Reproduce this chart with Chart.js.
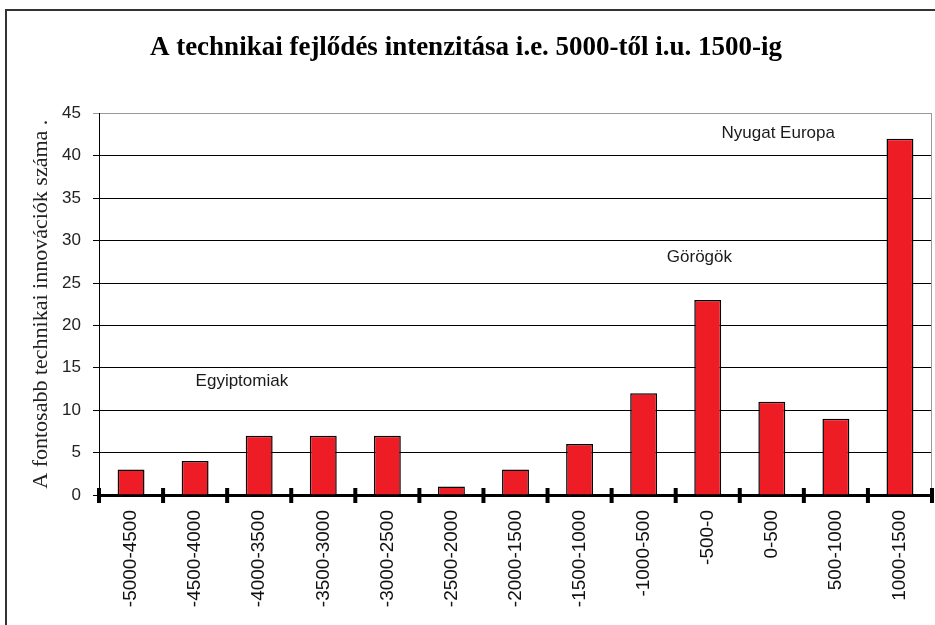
<!DOCTYPE html>
<html>
<head>
<meta charset="utf-8">
<script src="https://cdn.jsdelivr.net/npm/chart.js@4"></script>
<style>
  body { margin: 0; background: #fff; }
  #wrap { position: relative; width: 935px; height: 625px; overflow: hidden; }
  #frame { position: absolute; left: 5px; top: 9px; width: 1000px; height: 1000px;
           border-left: 2px solid #333; border-top: 2px solid #333; pointer-events: none; }
</style>
</head>
<body>
<div id="wrap">
  <canvas id="chart" width="935" height="625"></canvas>
  <div id="frame"></div>
</div>
<script>
// periods (years, negative = i.e.)
const periods = ['-5000-4500', '-4500-4000', '-4000-3500', '-3500-3000', '-3000-2500',
  '-2500-2000', '-2000-1500', '-1500-1000', '-1000-500', '-500-0', '0-500', '500-1000', '1000-1500'];
// number of major technical innovations
const innovations = [3, 4, 7, 7, 7, 1, 3, 6, 12, 23, 11, 9, 42];

// text notes placed in data units (category index, value)
const noteTexts = ['Egyiptomiak', 'Görögök', 'Nyugat Europa'];
const noteIndex = [1.73, 8.87, 10.1];
const noteValue = [13.4, 28, 42.6];

// draws the notes, the right plot border and the tick marks crossing the x axis
const extras = {
  id: 'extras',
  afterDatasetsDraw(chart) {
    const ctx = chart.ctx;
    const x = chart.scales.x, y = chart.scales.y;
    const area = chart.chartArea;
    ctx.save();
    ctx.strokeStyle = '#999';
    ctx.lineWidth = 1;
    ctx.beginPath();
    ctx.moveTo(area.right - 0.5, area.top);
    ctx.lineTo(area.right - 0.5, area.bottom);
    ctx.stroke();

    ctx.font = '17px "Liberation Sans", Arial, sans-serif';
    ctx.fillStyle = '#1a1a1a';
    ctx.textAlign = 'center';
    ctx.textBaseline = 'middle';
    noteTexts.forEach((t, i) => {
      const px = x.getPixelForValue(0) + noteIndex[i] * (x.getPixelForValue(1) - x.getPixelForValue(0));
      ctx.fillText(t, px, y.getPixelForValue(noteValue[i]));
    });
    // x axis crossing ticks
    const step = x.getPixelForValue(1) - x.getPixelForValue(0);
    const base = y.getPixelForValue(0);
    ctx.strokeStyle = '#000';
    ctx.lineWidth = 4;
    for (let i = 0; i <= periods.length; i++) {
      const px = x.getPixelForValue(0) - step / 2 + i * step;
      ctx.beginPath();
      ctx.moveTo(px, base - 7);
      ctx.lineTo(px, base + 8);
      ctx.stroke();
    }
    ctx.restore();
  }
};

const ctx = document.getElementById('chart').getContext('2d');
new Chart(ctx, {
  type: 'bar',
  data: {
    labels: periods,
    datasets: [{
      data: innovations,
      backgroundColor: '#ee1c24',
      borderColor: '#000',
      borderWidth: 1.5,
      categoryPercentage: 1,
      barPercentage: 0.42
    }]
  },
  options: {
    responsive: false,
    animation: false,
    layout: { padding: { left: 0, right: 3, top: 0, bottom: 0 } },
    plugins: {
      legend: { display: false },
      tooltip: { enabled: false },
      title: {
        display: true,
        text: 'A technikai fejlődés intenzitása i.e. 5000-től i.u. 1500-ig',
        color: '#000',
        font: { family: '"Liberation Serif", "Times New Roman", serif', size: 27, weight: 'bold' },
        padding: { top: 32, bottom: 49 }
      }
    },
    scales: {
      x: {
        afterFit(scale) { scale.height = 130; },
        grid: { display: false },
        border: { display: true, color: '#000', width: 3 },
        ticks: {
          color: '#111',
          font: { family: '"Liberation Sans", Arial, sans-serif', size: 19 },
          minRotation: 90,
          maxRotation: 90,
          padding: 7
        }
      },
      y: {
        min: 0,
        max: 45,
        afterFit(scale) { scale.width = 99; },
        border: { display: true, color: '#000', width: 1 },
        grid: {
          color: c => (c.tick && c.tick.value === 45 ? '#999' : '#000'),
          lineWidth: 1,
          tickLength: 6
        },
        ticks: {
          stepSize: 5,
          color: '#222',
          font: { family: '"Liberation Sans", Arial, sans-serif', size: 17 },
          padding: 12
        },
        title: {
          display: true,
          text: 'A fontosabb technikai innovációk száma .',
          color: '#222',
          font: { family: '"Liberation Serif", "Times New Roman", serif', size: 22 },
          padding: { top: 28, bottom: 0 }
        }
      }
    }
  },
  plugins: [extras]
});
</script>
</body>
</html>
